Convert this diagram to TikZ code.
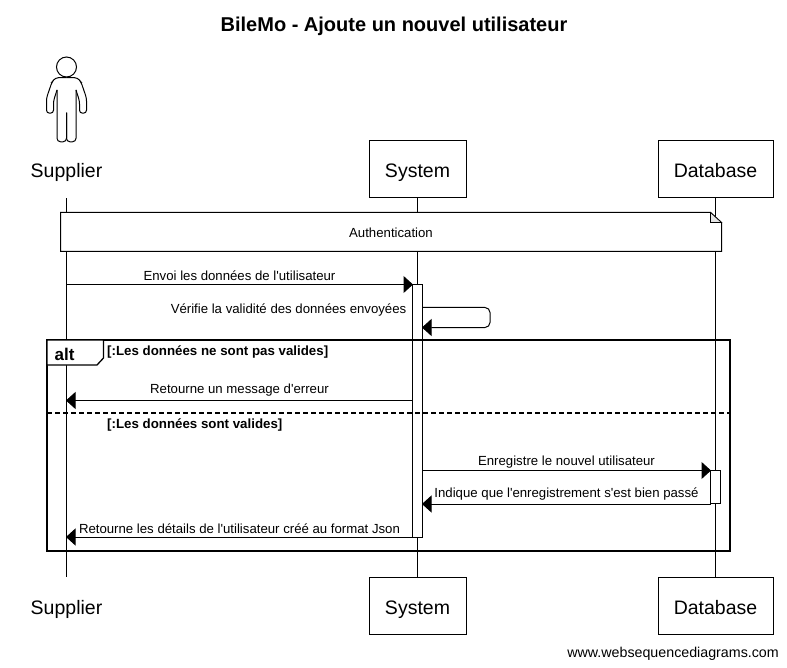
\documentclass[tikz,border=0pt]{standalone}
\usepackage{fontspec}
\setmainfont{Liberation Sans}[Ligatures=TeXOff]
\usetikzlibrary{arrows.meta, positioning}

\tikzset{
    participant/.style={draw, fill=white, line width=1pt, minimum width=#1, minimum height=57pt, inner sep=0pt, text height=19pt, text depth=2pt, font=\fontsize{19.5}{22}\selectfont},
    participant/.default=97pt,
    actorname/.style={participant=97pt, draw=none, fill=none},
    lifeline/.style={line width=1pt},
    activation/.style={draw, fill=white, line width=1pt, minimum width=10pt, inner sep=0pt},
    msg/.style={line width=1pt, -{Triangle[length=9.5pt,width=17pt]}, shorten >=-0.5pt},
    msgtext/.style={font=\fontsize{13.2}{15}\selectfont, inner sep=0pt},
    guard/.style={font=\bfseries\fontsize{13.3}{15}\selectfont, inner sep=0pt, anchor=west},
}

\begin{document}
\begin{tikzpicture}[x=1pt, y=-1pt]
    \useasboundingbox (0,0) rectangle (787,668);

    % Title
    \node[inner sep=0pt, font=\bfseries\fontsize{20}{22}\selectfont] (title) at (394,26.5) {BileMo - Ajoute un nouvel utilisateur};

    % Participants
    \node[actorname] (supplierTop) at (66.5,169.5) {Supplier};
    \node[participant] (systemTop) at (417.5,169.5) {System};
    \node[participant=115pt] (databaseTop) at (715.5,169.5) {Database};
    \node[actorname] (supplierBot) at (66.5,605.5) {Supplier};
    \node[participant] (systemBot) at (417.5,605.5) {System};
    \node[participant=115pt] (databaseBot) at (715.5,605.5) {Database};

    % Actor
    \draw[line width=1pt] (66.5,67) circle (10);
    \foreach \s in {1,-1} {
        \begin{scope}[shift={(66.5,0)}, xscale=\s]
            \draw[line width=1pt, rounded corners=3pt] (0,77.7) -- (11,77.7) -- (14.5,82) -- (20,98) -- (20,113.2) -- (13,113.2) -- (13,101) -- (9.5,90);
            \draw[line width=1pt, rounded corners=3.5pt] (9.5,90) -- (9.5,141.8) -- (0,141.8) -- (0,112.7);
        \end{scope}
    }

    % Lifelines
    \draw[lifeline] (supplierTop.south) -- (supplierBot.north);
    \draw[lifeline] (systemTop) -- (systemBot);
    \draw[lifeline] (databaseTop) -- (databaseBot);

    % Note
    \draw[fill=white, line width=1pt] (60.5,212.5) -- (710.5,212.5) -- (721.5,222.5) -- (721.5,251.5) -- (60.5,251.5) -- cycle;
    \draw[fill=gray!20, line width=0.7pt] (710.5,212.5) -- (710.5,222.5) -- (721.5,222.5) -- cycle;
    \node[msgtext] (noteText) at (391,233) {Authentication};

    % Activation bars
    \node[activation, minimum height=253pt] (systemBar) at (417.5,411) {};
    \node[activation, minimum height=33pt] (databaseBar) at (715.5,487) {};

    % Alt frame
    \draw[line width=2pt] (47,340) rectangle (730,550.5);
    \draw[line width=2pt, dashed, dash pattern=on 5pt off 3pt] (47,412.5) -- (730,412.5);
    \draw[fill=white, line width=1.3pt] (47,340) -- (103.5,340) -- (103.5,358) -- (97,365) -- (47,365) -- cycle;
    \node[inner sep=0pt, font=\bfseries\fontsize{17}{18}\selectfont] (altText) at (64.5,354) {alt};
    \node[guard] (guardOne) at (107,352) {[:Les données ne sont pas valides]};
    \node[guard] (guardTwo) at (107,425) {[:Les données sont valides]};

    % Message ends
    \coordinate (envoiFrom) at (66.5,284.5);
    \coordinate (envoiTo) at (412.5,284.5);
    \coordinate (verifFrom) at (422.5,307.5);
    \coordinate (verifTurnA) at (490,307.5);
    \coordinate (verifTurnB) at (490,327.5);
    \coordinate (verifTo) at (422.5,327.5);
    \coordinate (erreurFrom) at (412.5,400.5);
    \coordinate (erreurTo) at (66.5,400.5);
    \coordinate (enregFrom) at (422.5,470.5);
    \coordinate (enregTo) at (710.5,470.5);
    \coordinate (passeFrom) at (710.5,504);
    \coordinate (passeTo) at (422.5,504);
    \coordinate (detailFrom) at (412.5,537);
    \coordinate (detailTo) at (66.5,537);

    % Messages
    \draw[msg] (envoiFrom) -- (envoiTo) node[msgtext, midway, yshift=9pt] (envoiText) {Envoi les données de l'utilisateur};
    \draw[msg, rounded corners=5pt] (verifFrom) -- (verifTurnA) -- (verifTurnB) -- (verifTo);
    \node[msgtext, anchor=east] (verifText) at (406.5,310) {Vérifie la validité des données envoyées};
    \draw[msg] (erreurFrom) -- (erreurTo) node[msgtext, midway, yshift=10.5pt] (erreurText) {Retourne un message d'erreur};
    \draw[msg] (enregFrom) -- (enregTo) node[msgtext, midway, yshift=8.5pt] (enregText) {Enregistre le nouvel utilisateur};
    \draw[msg] (passeFrom) -- (passeTo) node[msgtext, midway, yshift=9.5pt] (passeText) {Indique que l'enregistrement s'est bien passé};
    \draw[msg] (detailFrom) -- (detailTo) node[msgtext, midway, yshift=8.5pt] (detailText) {Retourne les détails de l'utilisateur créé au format Json};

    % Footer
    \node[inner sep=0pt, anchor=east, font=\fontsize{14.25}{16}\selectfont] (footer) at (779,653.5) {www.websequencediagrams.com};
\end{tikzpicture}
\end{document}
